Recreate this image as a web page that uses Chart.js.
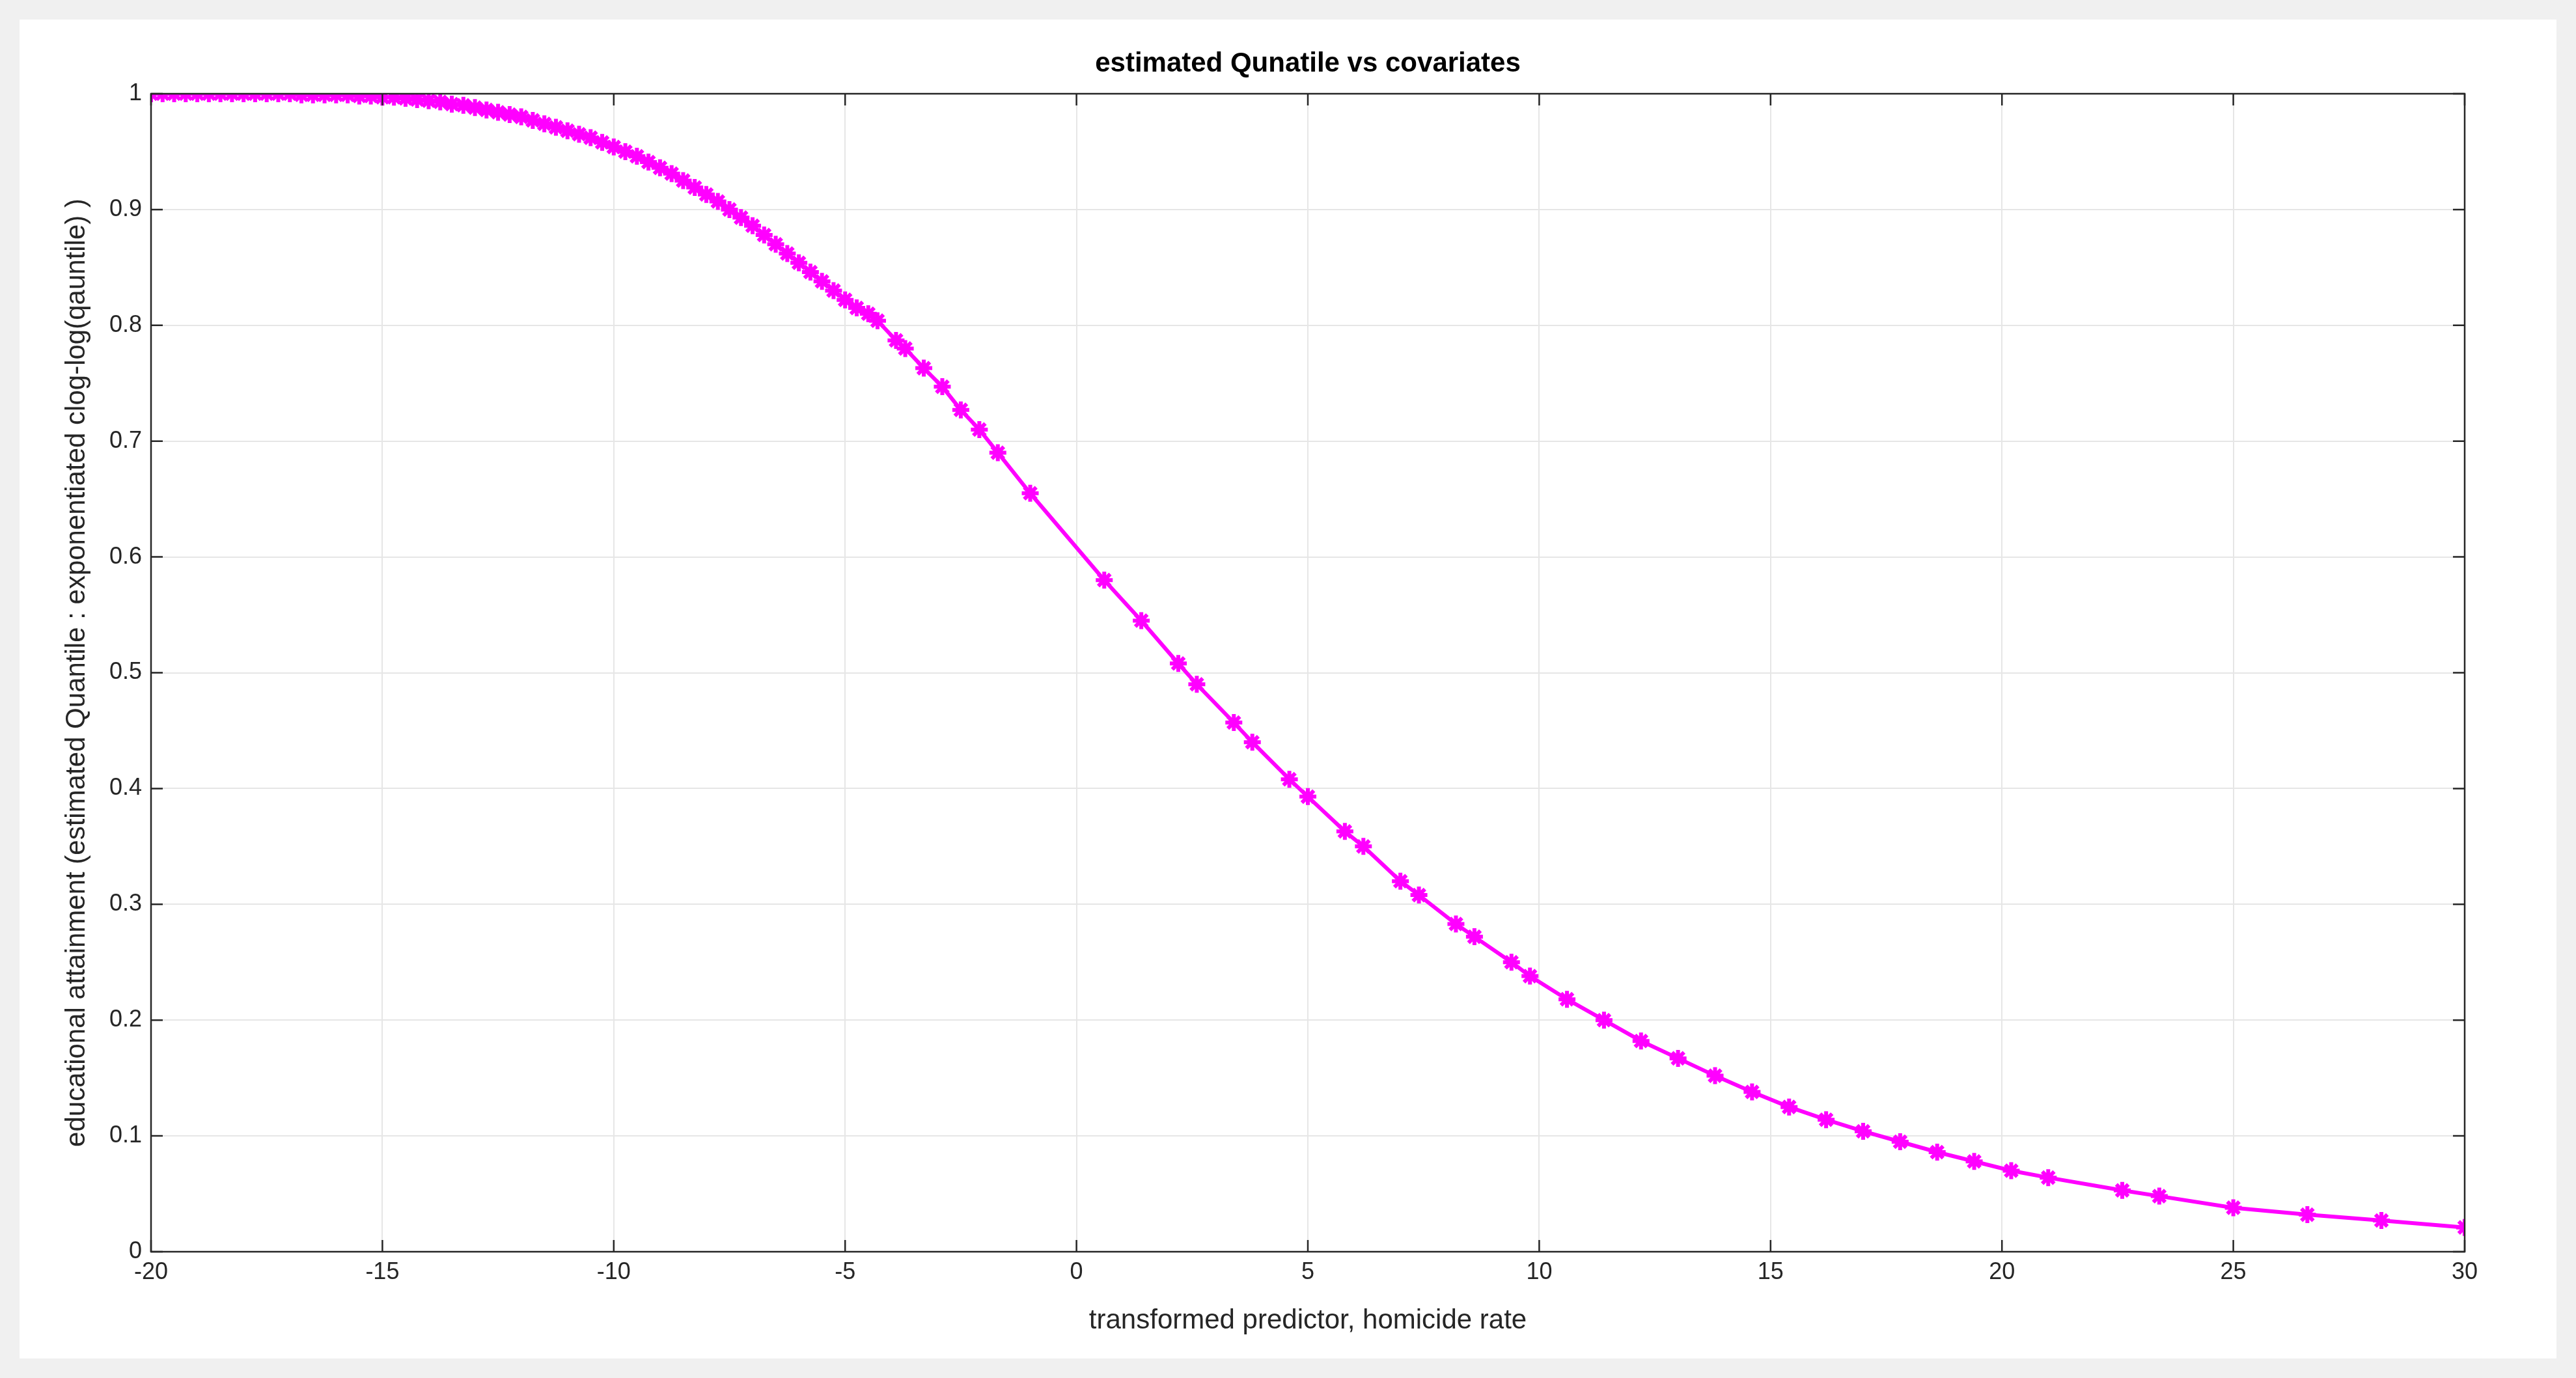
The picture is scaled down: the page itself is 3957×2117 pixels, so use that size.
<!DOCTYPE html>
<html><head><meta charset="utf-8">
<script src="https://cdn.jsdelivr.net/npm/chart.js@4"></script>
<style>
html,body{margin:0;padding:0;background:#f0f0f0;overflow:hidden}
#wrap{position:absolute;left:30px;top:30px;width:3897px;height:2057px;background:#fff}
</style></head><body>
<div id="wrap"><canvas id="c" width="3897" height="2057"></canvas></div>
<script>
const xValues = [-20,-19.75,-19.5,-19.25,-19,-18.75,-18.5,-18.25,-18,-17.75,-17.5,-17.25,-17,-16.75,-16.5,-16.25,-16,-15.75,-15.5,-15.25,-15,-14.75,-14.5,-14.25,-14,-13.75,-13.5,-13.25,-13,-12.75,-12.5,-12.25,-12,-11.75,-11.5,-11.25,-11,-10.75,-10.5,-10.25,-10,-9.75,-9.5,-9.25,-9,-8.75,-8.5,-8.25,-8,-7.75,-7.5,-7.25,-7,-6.75,-6.5,-6.25,-6,-5.75,-5.5,-5.25,-5,-4.75,-4.5,-4.3,-3.9,-3.7,-3.3,-2.9,-2.5,-2.1,-1.7,-1,0.6,1.4,2.2,2.6,3.4,3.8,4.6,5,5.8,6.2,7,7.4,8.2,8.6,9.4,9.8,10.6,11.4,12.2,13,13.8,14.6,15.4,16.2,17,17.8,18.6,19.4,20.2,21,22.6,23.4,25,26.6,28.2,30];
const yValues = [1,1,1,1,1,1,1,1,1,1,1,1,1,0.999,0.999,0.999,0.999,0.999,0.998,0.998,0.997,0.997,0.996,0.995,0.994,0.993,0.991,0.99,0.988,0.986,0.984,0.982,0.98,0.977,0.974,0.971,0.968,0.965,0.962,0.958,0.954,0.95,0.946,0.941,0.936,0.931,0.925,0.919,0.913,0.907,0.9,0.893,0.886,0.878,0.87,0.862,0.854,0.846,0.838,0.83,0.822,0.815,0.81,0.804,0.787,0.78,0.763,0.747,0.727,0.71,0.69,0.655,0.58,0.545,0.508,0.49,0.457,0.44,0.408,0.393,0.363,0.35,0.32,0.308,0.283,0.272,0.25,0.238,0.218,0.2,0.182,0.167,0.152,0.138,0.125,0.114,0.104,0.095,0.086,0.078,0.07,0.064,0.053,0.048,0.038,0.032,0.027,0.021];
const titleText = 'estimated Qunatile vs covariates';
const xLabel = 'transformed predictor, homicide rate';
const yLabel = 'educational attainment (estimated Quantile : exponentiated clog-log(qauntile) )';

const pts = xValues.map((x,i)=>({x, y:yValues[i]}));
const deco = {
  id:'deco',
  afterDraw(ch){
    const {ctx, chartArea:a} = ch;
    ctx.save();
    ctx.strokeStyle='#262626'; ctx.lineWidth=2.5;
    ctx.strokeRect(a.left,a.top,a.right-a.left,a.bottom-a.top);
    const xs=ch.scales.x, ys=ch.scales.y;
    for(let v=-20;v<=30;v+=5){const p=xs.getPixelForValue(v);
      ctx.beginPath();ctx.moveTo(p,a.bottom);ctx.lineTo(p,a.bottom-18);ctx.moveTo(p,a.top);ctx.lineTo(p,a.top+18);ctx.stroke();}
    for(let v=0;v<=10;v++){const p=ys.getPixelForValue(v/10);
      ctx.beginPath();ctx.moveTo(a.left,p);ctx.lineTo(a.left+18,p);ctx.moveTo(a.right,p);ctx.lineTo(a.right-18,p);ctx.stroke();}
    ctx.fillStyle='#000';ctx.textAlign='center';ctx.textBaseline='middle';
    ctx.font='bold 42px "Liberation Sans", Arial, sans-serif';
    ctx.fillText(titleText,(a.left+a.right)/2,68);
    ctx.fillStyle='#262626';
    ctx.font='42px "Liberation Sans", Arial, sans-serif';
    ctx.fillText(xLabel,(a.left+a.right)/2,a.bottom+106);
    ctx.translate(88,(a.top+a.bottom)/2);ctx.rotate(-Math.PI/2);
    ctx.fillText(yLabel,0,0);
    ctx.restore();
  }
};
new Chart(document.getElementById('c'),{
  type:'scatter',
  data:{datasets:[{data:pts,showLine:true,borderColor:'#ff00ff',backgroundColor:'#ff00ff',
    borderWidth:6,pointStyle:'star',pointRadius:13,pointBorderWidth:6,pointBorderColor:'#ff00ff'}]},
  options:{
    responsive:false,animation:false,devicePixelRatio:1,
    layout:{padding:{top:114,right:141,left:0,bottom:0}},
    plugins:{legend:{display:false},tooltip:{enabled:false}},
    scales:{
      x:{type:'linear',min:-20,max:30,
        ticks:{stepSize:5,color:'#262626',font:{size:36,family:'"Liberation Sans", Arial'},padding:10,maxRotation:0},
        grid:{color:'#e6e6e6',lineWidth:2,drawTicks:false},border:{display:false},
        afterFit(s){s.height=164;}},
      y:{type:'linear',min:0,max:1,
        ticks:{stepSize:0.1,color:'#262626',font:{size:36,family:'"Liberation Sans", Arial'},padding:14,
          callback:v=>Math.round(v*10)/10},
        grid:{color:'#e6e6e6',lineWidth:2,drawTicks:false},border:{display:false},
        afterFit(s){s.width=202;}}
    }
  },
  plugins:[deco]
});
</script></body></html>
